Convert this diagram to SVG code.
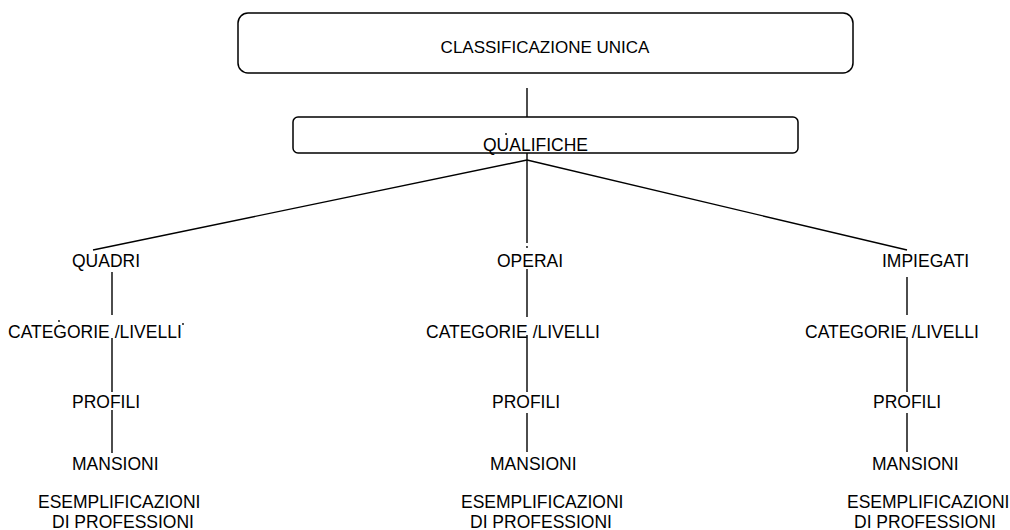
<svg xmlns="http://www.w3.org/2000/svg" width="1010" height="530" viewBox="0 0 1010 530">
<style>
.box{fill:#fff;stroke:#000;stroke-width:1.5}
.t{font-family:"Liberation Sans",Arial,sans-serif;font-size:17.5px;fill:#000}
.c{stroke:#000;stroke-width:1.4;fill:none}
.dot{fill:#000}
</style>
<rect width="1010" height="530" fill="#fff"/>
<g id="connectors">
<line class="c" x1="527" y1="88" x2="527" y2="117"/>
<line class="c" x1="527" y1="160" x2="93" y2="250"/>
<line class="c" x1="527" y1="160" x2="907" y2="250"/>
<line class="c" x1="527" y1="153" x2="527" y2="243"/>
<line class="c" x1="112" y1="272" x2="112" y2="315"/>
<line class="c" x1="112" y1="338" x2="112" y2="392"/>
<line class="c" x1="112" y1="410" x2="112" y2="453"/>
<line class="c" x1="527" y1="269" x2="527" y2="317"/>
<line class="c" x1="527" y1="335" x2="527" y2="392"/>
<line class="c" x1="527" y1="413" x2="527" y2="452"/>
<line class="c" x1="907" y1="277" x2="907" y2="315"/>
<line class="c" x1="907" y1="337" x2="907" y2="392"/>
<line class="c" x1="907" y1="413" x2="907" y2="452"/>
<circle class="dot" cx="527" cy="247" r="0.9"/>
</g>
<g id="classificazione">
<rect class="box" x="238" y="13" width="615" height="60" rx="10"/>
<text class="t" x="545" y="53" text-anchor="middle" style="font-size:17px">CLASSIFICAZIONE UNICA</text>
</g>
<g id="qualifiche">
<rect class="box" x="293" y="117" width="505" height="36" rx="5"/>
<text class="t" x="483" y="151">QUALIFICHE</text>
<circle class="dot" cx="506" cy="134" r="0.9"/>
</g>
<g id="quadri"><text class="t" x="72" y="267">QUADRI</text></g>
<g id="quadri-categorie"><text class="t" x="8" y="338">CATEGORIE /LIVELLI</text>
<circle class="dot" cx="59" cy="321" r="0.9"/><circle class="dot" cx="183" cy="324" r="0.9"/></g>
<g id="quadri-profili"><text class="t" x="72" y="408">PROFILI</text></g>
<g id="quadri-mansioni"><text class="t" x="72" y="470">MANSIONI</text></g>
<g id="quadri-esempl"><text class="t" x="38" y="508">ESEMPLIFICAZIONI</text><text class="t" x="52" y="528">DI PROFESSIONI</text></g>
<g id="operai"><text class="t" x="497" y="267">OPERAI</text></g>
<g id="operai-categorie"><text class="t" x="426" y="338">CATEGORIE /LIVELLI</text></g>
<g id="operai-profili"><text class="t" x="492" y="408">PROFILI</text></g>
<g id="operai-mansioni"><text class="t" x="490" y="470">MANSIONI</text></g>
<g id="operai-esempl"><text class="t" x="461" y="508">ESEMPLIFICAZIONI</text><text class="t" x="470" y="528">DI PROFESSIONI</text></g>
<g id="impiegati"><text class="t" x="882" y="267">IMPIEGATI</text></g>
<g id="impiegati-categorie"><text class="t" x="805" y="338">CATEGORIE /LIVELLI</text></g>
<g id="impiegati-profili"><text class="t" x="873" y="408">PROFILI</text></g>
<g id="impiegati-mansioni"><text class="t" x="872" y="470">MANSIONI</text></g>
<g id="impiegati-esempl"><text class="t" x="847" y="508">ESEMPLIFICAZIONI</text><text class="t" x="854" y="528">DI PROFESSIONI</text></g>
</svg>
